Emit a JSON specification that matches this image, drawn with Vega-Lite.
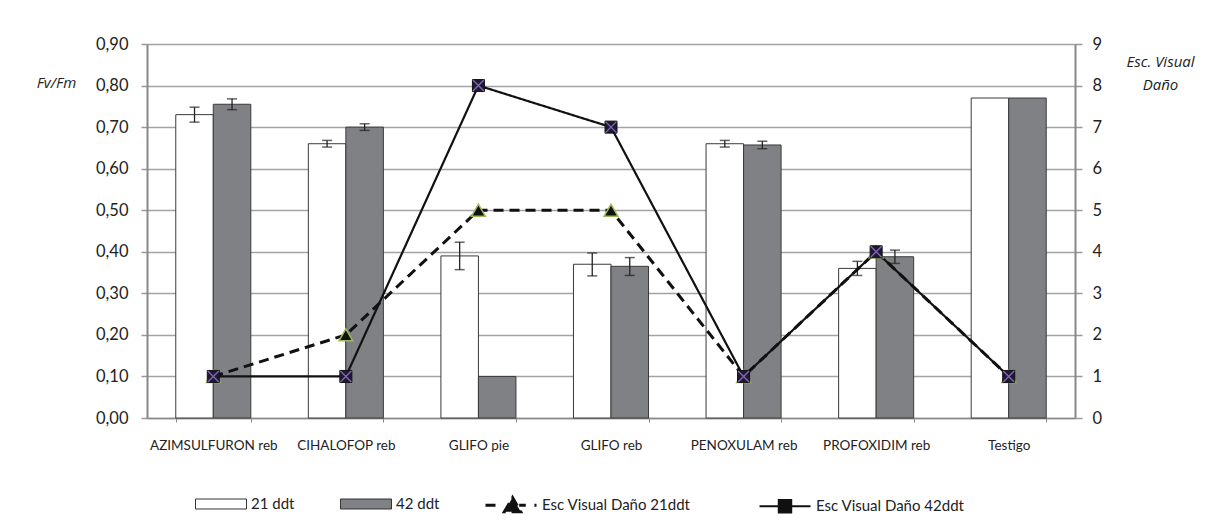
{
  "$schema": "https://vega.github.io/schema/vega-lite/v6.json",
  "width": 928,
  "height": 374,
  "autosize": {"type": "none"},
  "padding": {"left": 147, "top": 44, "right": 136, "bottom": 110},
  "background": "white",
  "config": {
    "view": {"stroke": null},
    "font": "Lato",
    "axis": {"labelFont": "Lato", "titleFont": "Open Sans", "labelColor": "#222222", "titleColor": "#222222"},
    "legend": {"labelFont": "Lato", "labelColor": "#222222", "padding": 0}
  },
  "datasets": {
    "bars": [
      {"cat": "AZIMSULFURON reb", "serie": "21 ddt", "fv": 0.73, "lo": 0.712, "hi": 0.748},
      {"cat": "AZIMSULFURON reb", "serie": "42 ddt", "fv": 0.755, "lo": 0.742, "hi": 0.768},
      {"cat": "CIHALOFOP reb", "serie": "21 ddt", "fv": 0.66, "lo": 0.652, "hi": 0.668},
      {"cat": "CIHALOFOP reb", "serie": "42 ddt", "fv": 0.70, "lo": 0.692, "hi": 0.708},
      {"cat": "GLIFO pie", "serie": "21 ddt", "fv": 0.39, "lo": 0.357, "hi": 0.423},
      {"cat": "GLIFO pie", "serie": "42 ddt", "fv": 0.10, "lo": null, "hi": null},
      {"cat": "GLIFO reb", "serie": "21 ddt", "fv": 0.37, "lo": 0.342, "hi": 0.397},
      {"cat": "GLIFO reb", "serie": "42 ddt", "fv": 0.365, "lo": 0.343, "hi": 0.386},
      {"cat": "PENOXULAM reb", "serie": "21 ddt", "fv": 0.66, "lo": 0.652, "hi": 0.668},
      {"cat": "PENOXULAM reb", "serie": "42 ddt", "fv": 0.657, "lo": 0.648, "hi": 0.666},
      {"cat": "PROFOXIDIM reb", "serie": "21 ddt", "fv": 0.36, "lo": 0.343, "hi": 0.377},
      {"cat": "PROFOXIDIM reb", "serie": "42 ddt", "fv": 0.388, "lo": 0.372, "hi": 0.404},
      {"cat": "Testigo", "serie": "21 ddt", "fv": 0.77, "lo": null, "hi": null},
      {"cat": "Testigo", "serie": "42 ddt", "fv": 0.77, "lo": null, "hi": null}
    ],
    "dano": [
      {"cat": "AZIMSULFURON reb", "serie": "Esc Visual Daño 21ddt", "dano": 1},
      {"cat": "CIHALOFOP reb", "serie": "Esc Visual Daño 21ddt", "dano": 2},
      {"cat": "GLIFO pie", "serie": "Esc Visual Daño 21ddt", "dano": 5},
      {"cat": "GLIFO reb", "serie": "Esc Visual Daño 21ddt", "dano": 5},
      {"cat": "PENOXULAM reb", "serie": "Esc Visual Daño 21ddt", "dano": 1},
      {"cat": "PROFOXIDIM reb", "serie": "Esc Visual Daño 21ddt", "dano": 4},
      {"cat": "Testigo", "serie": "Esc Visual Daño 21ddt", "dano": 1},
      {"cat": "AZIMSULFURON reb", "serie": "Esc Visual Daño 42ddt", "dano": 1},
      {"cat": "CIHALOFOP reb", "serie": "Esc Visual Daño 42ddt", "dano": 1},
      {"cat": "GLIFO pie", "serie": "Esc Visual Daño 42ddt", "dano": 8},
      {"cat": "GLIFO reb", "serie": "Esc Visual Daño 42ddt", "dano": 7},
      {"cat": "PENOXULAM reb", "serie": "Esc Visual Daño 42ddt", "dano": 1},
      {"cat": "PROFOXIDIM reb", "serie": "Esc Visual Daño 42ddt", "dano": 4},
      {"cat": "Testigo", "serie": "Esc Visual Daño 42ddt", "dano": 1}
    ]
  },
  "encoding": {
    "x": {
      "field": "cat",
      "type": "nominal",
      "scale": {
        "domain": ["AZIMSULFURON reb", "CIHALOFOP reb", "GLIFO pie", "GLIFO reb", "PENOXULAM reb", "PROFOXIDIM reb", "Testigo"],
        "paddingInner": 0.434,
        "paddingOuter": 0.217
      },
      "axis": {
        "title": null,
        "labelAngle": 0,
        "labelFontSize": 13.5,
        "labelPadding": 16,
        "tickBand": "extent",
        "tickSize": 4,
        "tickColor": "#888888",
        "domainColor": "#888888",
        "domainWidth": 1.5,
        "grid": false
      }
    }
  },
  "layer": [
    {
      "data": {"name": "bars"},
      "layer": [
        {
          "mark": {"type": "bar", "stroke": "#3a3a3a", "strokeWidth": 1},
          "encoding": {
            "xOffset": {"field": "serie", "type": "nominal", "scale": {"domain": ["21 ddt", "42 ddt"]}},
            "y": {
              "field": "fv",
              "type": "quantitative",
              "scale": {"domain": [0, 0.9], "nice": false},
              "axis": {
                "title": "Fv/Fm",
                "titleAngle": 0,
                "titleX": -91,
                "titleY": 38,
                "titleAlign": "center",
                "titleBaseline": "middle",
                "titleFontStyle": "italic",
                "titleFontWeight": 400,
                "titleFontSize": 15,
                "values": [0, 0.1, 0.2, 0.3, 0.4, 0.5, 0.6, 0.7, 0.8, 0.9],
                "labelExpr": "replace(format(datum.value, '.2f'), '.', ',')",
                "labelFontSize": 16.5,
                "labelPadding": 13,
                "tickSize": 6,
                "tickColor": "#999999",
                "tickWidth": 1.5,
                "domainColor": "#888888",
                "domainWidth": 2,
                "grid": true,
                "gridColor": "#a3a3a3",
                "gridWidth": 1.5
              }
            },
            "fill": {
              "field": "serie",
              "type": "nominal",
              "scale": {"domain": ["21 ddt", "42 ddt"], "range": ["#ffffff", "#808184"]},
              "legend": {
                "orient": "none",
                "legendX": 48,
                "legendY": 434,
                "direction": "horizontal",
                "title": null,
                "symbolType": "M-1,-0.196H1V0.196H-1Z",
                "symbolSize": 2601,
                "symbolStrokeColor": "#333333",
                "symbolStrokeWidth": 1,
                "labelFontSize": 15,
                "labelOffset": 4,
                "columnPadding": 43
              }
            }
          }
        },
        {
          "transform": [{"filter": "datum.lo != null"}],
          "mark": {"type": "rule", "color": "#222222", "strokeWidth": 1.3},
          "encoding": {
            "xOffset": {"field": "serie", "type": "nominal", "scale": {"domain": ["21 ddt", "42 ddt"]}},
            "y": {"field": "lo", "type": "quantitative"},
            "y2": {"field": "hi"}
          }
        },
        {
          "transform": [{"filter": "datum.lo != null"}],
          "mark": {"type": "tick", "orient": "horizontal", "size": 10, "thickness": 1.5, "color": "#222222"},
          "encoding": {
            "xOffset": {"field": "serie", "type": "nominal", "scale": {"domain": ["21 ddt", "42 ddt"]}},
            "y": {"field": "hi", "type": "quantitative"}
          }
        },
        {
          "transform": [{"filter": "datum.lo != null"}],
          "mark": {"type": "tick", "orient": "horizontal", "size": 10, "thickness": 1.5, "color": "#222222"},
          "encoding": {
            "xOffset": {"field": "serie", "type": "nominal", "scale": {"domain": ["21 ddt", "42 ddt"]}},
            "y": {"field": "lo", "type": "quantitative"}
          }
        }
      ]
    },
    {
      "data": {"name": "dano"},
      "layer": [
        {
          "mark": {"type": "line", "color": "#111111"},
          "encoding": {
            "y": {
              "field": "dano",
              "type": "quantitative",
              "scale": {"domain": [0, 9], "nice": false},
              "axis": {
                "orient": "right",
                "title": ["Esc. Visual", "Daño"],
                "titleAngle": 0,
                "titleX": 85,
                "titleY": 17,
                "titleAlign": "center",
                "titleBaseline": "middle",
                "titleFontStyle": "italic",
                "titleFontWeight": 400,
                "titleFontSize": 15,
                "titleLineHeight": 23,
                "values": [0, 1, 2, 3, 4, 5, 6, 7, 8, 9],
                "format": "d",
                "labelFontSize": 16.5,
                "labelPadding": 10,
                "tickSize": 7,
                "tickColor": "#999999",
                "tickWidth": 1.5,
                "domainColor": "#888888",
                "domainWidth": 2,
                "grid": false
              }
            },
            "strokeDash": {
              "field": "serie",
              "type": "nominal",
              "scale": {"domain": ["Esc Visual Daño 21ddt", "Esc Visual Daño 42ddt"], "range": [[10, 6], [1, 0]]},
              "legend": {
                "orient": "none",
                "legendX": 337,
                "legendY": 434,
                "direction": "horizontal",
                "title": null,
                "symbolType": "M-1,0H1",
                "symbolSize": 2601,
                "symbolStrokeColor": "#111111",
                "symbolFillColor": "#111111",
                "symbolStrokeWidth": 2.5,
                "labelFontSize": 15,
                "labelOffset": 4,
                "columnPadding": 64,
                "encode": {
                  "symbols": {
                    "update": {
                      "shape": {"signal": "datum.value === 'Esc Visual Daño 21ddt' ? 'M-1,0H-0.41M0.32,0H0.58M0.92,0H1M-0.26,0.26L0.06,-0.3L0.38,0.26Z' : 'M-1,0H1M-0.24,-0.24H0.24V0.24H-0.24Z'"},
                      "strokeDash": {"value": [1, 0]},
                      "fill": {"value": "#111111"},
                      "stroke": {"value": "#111111"}
                    }
                  }
                }
              }
            },
            "strokeWidth": {
              "field": "serie",
              "type": "nominal",
              "scale": {"domain": ["Esc Visual Daño 21ddt", "Esc Visual Daño 42ddt"], "range": [3, 2.2]},
              "legend": null
            }
          }
        },
        {
          "transform": [{"filter": "datum.serie === 'Esc Visual Daño 21ddt'"}],
          "mark": {"type": "point", "shape": "triangle-up", "size": 190, "filled": true, "fill": "#111111", "stroke": "#9bbb59", "strokeWidth": 1.5, "opacity": 1},
          "encoding": {"y": {"field": "dano", "type": "quantitative"}}
        },
        {
          "transform": [{"filter": "datum.serie === 'Esc Visual Daño 42ddt'"}],
          "mark": {"type": "point", "shape": "square", "size": 144, "filled": true, "fill": "#1c1c2e", "stroke": "#111111", "strokeWidth": 1, "opacity": 1},
          "encoding": {"y": {"field": "dano", "type": "quantitative"}}
        },
        {
          "transform": [{"filter": "datum.serie === 'Esc Visual Daño 42ddt'"}],
          "mark": {"type": "point", "shape": "M-1,-1L1,1M-1,1L1,-1", "size": 120, "filled": false, "stroke": "#8a63c0", "strokeWidth": 1.3, "opacity": 1},
          "encoding": {"y": {"field": "dano", "type": "quantitative"}}
        }
      ]
    }
  ],
  "resolve": {"scale": {"y": "independent"}}
}
